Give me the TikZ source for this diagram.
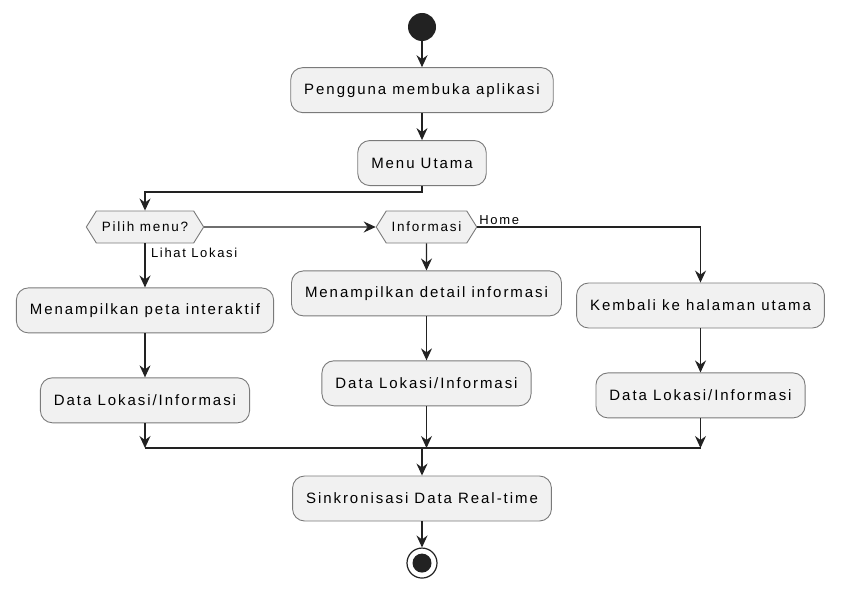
\documentclass[tikz,border=0pt]{standalone}
\usepackage{fontspec}
\setmainfont[LetterSpace=13]{Liberation Sans}
\usetikzlibrary{arrows.meta, positioning, shapes.symbols}
\definecolor{actfill}{HTML}{F1F1F1}
\definecolor{actline}{HTML}{7A7A7A}
\definecolor{flow}{HTML}{222222}

\begin{document}
\begin{tikzpicture}[
  x=1pt, y=-1pt,
  node distance=44pt,
  act/.style={rectangle, draw=actline, rounded corners=12pt, fill=actfill, minimum height=45pt, inner xsep=13.5pt, line width=0.9pt, font=\fontsize{15}{18}\selectfont},
  choice/.style={signal, signal to=east and west, signal pointer angle=116, draw=actline, fill=actfill, minimum height=32pt, inner xsep=5.5pt, line width=0.9pt, font=\fontsize{13.5}{16}\selectfont},
  lbl/.style={font=\fontsize{13}{15}\selectfont, inner sep=1.5pt},
  arrow/.style={-{Stealth[length=12pt, width=11pt, inset=4pt]}, draw=flow, line width=1.1pt},
  line/.style={draw=flow, line width=1.1pt}
]
\useasboundingbox (0,0) rectangle (842,591);

\node[circle, fill=flow, minimum size=28pt, inner sep=0pt] (start) at (422,27) {};
\node[act, below=26pt of start] (open) {Pengguna membuka aplikasi};
\node[act, below=27pt of open] (menu) {Menu Utama};

\node[choice] (pilih) at (145,227) {Pilih menu?};
\node[choice] (info) at (426.5,227) {Informasi};

\node[act, below=of pilih] (peta) {Menampilkan peta interaktif};
\node[act, below=of peta] (dataL) {Data Lokasi/Informasi};
\node[act, below=27pt of info] (detail) {Menampilkan detail informasi};
\node[act, below=of detail] (dataM) {Data Lokasi/Informasi};
\node[act] (back) at (700.5,305.5) {Kembali ke halaman utama};
\node[act, below=of back] (dataR) {Data Lokasi/Informasi};

\node[act] (sync) at (422,498.5) {Sinkronisasi Data Real-time};
\node[circle, draw=flow, fill=white, line width=1.2pt, minimum size=30pt, inner sep=0pt, below=26pt of sync] (stop) {};
\node[circle, fill=flow, minimum size=19pt, inner sep=0pt] (stopdot) at (stop) {};

\coordinate (mergeL) at (145,448);
\coordinate (mergeR) at (700.5,448);
\coordinate (mergeS) at (sync |- mergeL);

\draw[arrow] (start) -- (open);
\draw[arrow] (open) -- (menu);
\draw[arrow] (menu.south) -- ++(0,6) -| (pilih);
\draw[arrow] (pilih) -- (info);
\draw[arrow] (pilih.south) node[lbl, anchor=north west, xshift=4pt, yshift=-3pt] (lihat) {Lihat Lokasi} -- (peta);
\draw[arrow] (peta) -- (dataL);
\draw[arrow] (info) -- (detail);
\draw[arrow] (detail) -- (dataM);
\draw[arrow] (info.east) node[lbl, anchor=south west] (home) {Home} -| (back);
\draw[arrow] (back) -- (dataR);

\draw[arrow] (dataL) -- (dataL |- mergeL);
\draw[arrow] (dataM) -- (dataM |- mergeL);
\draw[arrow] (dataR) -- (dataR |- mergeL);
\draw[line] (mergeL) -- (mergeR);
\draw[arrow] (mergeS) -- (sync);
\draw[arrow] (sync) -- (stop);

\end{tikzpicture}
\end{document}
